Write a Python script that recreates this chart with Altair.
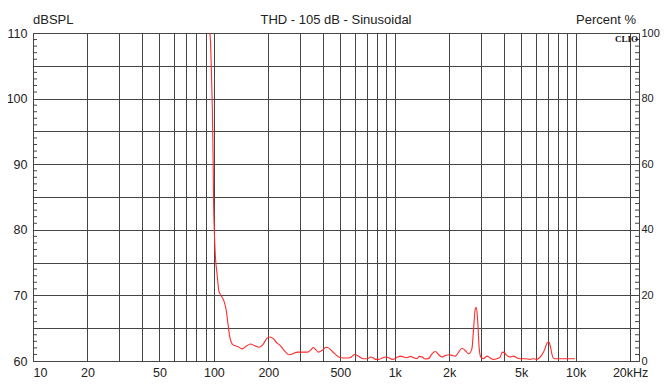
import altair as alt
import pandas as pd

# THD curve (frequency in Hz, THD in percent)
freq = [94.7, 95.9, 97.1, 98.0, 98.7, 99.2, 99.6, 100.5, 101.3, 102.2, 103.9, 104.8,
        106.5, 109.8, 113.5, 117.1, 119.4, 122.0, 126.3, 130.0, 135.6, 143.3, 150.8,
        159.3, 167.5, 178.5, 186.1, 195.8, 204.4, 213.2, 222.3, 232.9, 245.0, 261.1,
        272.3, 290.1, 309.1, 329.4, 343.9, 355.4, 366.4, 378.7, 395.4, 415.9, 429.8,
        452.2, 481.8, 502.9, 535.8, 565.7, 582.5, 600.5, 620.9, 648.2, 675.8, 704.7,
        735.7, 757.5, 784.0, 817.5, 852.3, 889.8, 927.9, 967.6, 1001, 1036, 1076, 1122,
        1170, 1222, 1274, 1328, 1369, 1416, 1478, 1541, 1607, 1678, 1750, 1824, 1904,
        1986, 2071, 2162, 2254, 2350, 2455, 2559, 2669, 2727, 2786, 2822, 2869, 2931,
        2991, 3095, 3228, 3370, 3514, 3664, 3824, 3938, 4040, 4159, 4342, 4527, 4721,
        4929, 5252, 5596, 5834, 6084, 6271, 6481, 6767, 6967, 7118, 7264, 7423, 7586,
        8010, 8721, 9483, 9899]
thd = [100.5, 96.9, 86.3, 77.5, 67.4, 57.7, 49.2, 40.1, 35.0, 31.0, 27.0, 25.0,
       21.4, 19.9, 18.4, 15.4, 11.8, 7.8, 5.2, 4.7, 4.4, 3.7, 4.5,
       5.2, 4.7, 4.2, 4.9, 6.8, 7.3, 6.8, 5.6, 4.7, 3.2, 1.9,
       2.2, 2.7, 2.7, 2.7, 3.4, 4.1, 3.4, 2.7, 3.2, 4.2, 4.0,
       2.9, 1.5, 1.0, 0.9, 1.0, 1.5, 2.0, 1.7, 1.0, 0.7, 0.7,
       1.2, 1.0, 0.5, 0.5, 0.9, 1.2, 1.0, 0.5, 0.7, 1.2, 1.5, 1.2,
       1.0, 1.4, 1.0, 0.7, 1.4, 1.2, 0.6, 0.8, 2.2, 2.9, 1.9, 1.2, 1.7,
       1.9, 1.7, 1.5, 2.7, 3.9, 3.2, 2.2, 3.7, 9.8, 15.9, 16.4, 12.8, 3.7,
       1.2, 0.7, 1.5, 0.9, 0.5, 0.7, 1.2, 2.7, 2.5, 1.7, 1.2, 1.5, 1.0,
       0.7, 0.7, 0.5, 0.7, 0.5, 0.9, 1.7, 3.7, 5.6, 5.8, 4.2, 1.7, 0.7,
       0.7, 0.7, 0.7, 0.7]

x_grid = [10, 20, 30, 40, 50, 60, 70, 80, 90, 100, 200, 300, 400, 500, 600, 700, 800, 900,
          1000, 2000, 3000, 4000, 5000, 6000, 7000, 8000, 9000, 10000, 20000]
x_labels = {10: "10", 20: "20", 50: "50", 100: "100", 200: "200", 500: "500",
            1000: "1k", 2000: "2k", 5000: "5k", 10000: "10k", 20000: "20kHz"}
db_grid = [60, 65, 70, 75, 80, 85, 90, 95, 100, 105, 110]
pct_labels = [0, 20, 40, 60, 80, 100]
db_minor = [v for v in range(61, 110) if v % 5 != 0]

texts = pd.DataFrame({
    "label": ["dBSPL", "THD - 105 dB - Sinusoidal", "Percent %"],
    "align": ["left", "center", "right"],
})

W, H = 606, 328
FONT = "Liberation Sans"
TXT = "#222222"
GRID = "#454545"

curve = pd.DataFrame({"f": freq, "pct": thd})
minor = pd.DataFrame({"db": db_minor})

label_expr = " : ".join(
    [f"datum.value == {k} ? '{v}'" for k, v in x_labels.items()]) + " : ''"

x_axis = alt.Axis(values=x_grid, labelExpr=label_expr, grid=True, gridColor=GRID,
                  gridOpacity=1, gridWidth=1, ticks=False, domain=False,
                  labelFontSize=12.5, labelFont=FONT, labelColor=TXT, labelPadding=5,
                  labelFlush=True, labelOverlap=False, title=None)

left_axis = alt.Axis(values=db_grid, orient="left",
                     labelExpr="datum.value % 10 == 0 ? datum.value : ''",
                     grid=True, gridColor=GRID, gridOpacity=1, gridWidth=1,
                     ticks=False, domain=False, labelFontSize=12.5, labelFont=FONT,
                     labelColor=TXT, labelPadding=6, labelOverlap=False, title=None)

right_axis = alt.Axis(values=pct_labels, orient="right", grid=False, ticks=False,
                      domain=False, labelFontSize=11, labelFont=FONT, labelColor=TXT,
                      labelPadding=2, labelOverlap=False, title=None)

db_scale = alt.Scale(domain=[60, 110], nice=False, zero=False)

left_ticks = alt.Chart(minor).mark_rule(color=GRID, strokeWidth=1).encode(
    x=alt.value(0), x2=alt.value(4),
    y=alt.Y("db:Q", scale=db_scale, axis=left_axis),
)

right_ticks = alt.Chart(minor).mark_rule(color=GRID, strokeWidth=1).encode(
    x=alt.value(W - 4), x2=alt.value(W),
    y=alt.Y("db:Q", scale=db_scale, axis=None),
)

line = alt.Chart(curve).mark_line(color="#ff2a2a", strokeWidth=1.1, clip=True,
                                  interpolate="monotone").encode(
    x=alt.X("f:Q", scale=alt.Scale(type="log", domain=[10, 22400], nice=False),
            axis=x_axis),
    y=alt.Y("pct:Q", scale=alt.Scale(domain=[0, 100], nice=False), axis=right_axis),
)

title_left = alt.Chart(texts.iloc[[0]]).mark_text(
    font=FONT, fontSize=13, align="left", baseline="alphabetic", color=TXT
).encode(text="label:N", x=alt.value(0), y=alt.value(-9))

title_mid = alt.Chart(texts.iloc[[1]]).mark_text(
    font=FONT, fontSize=13, align="center", baseline="alphabetic", color=TXT
).encode(text="label:N", x=alt.value(W / 2), y=alt.value(-9))

title_right = alt.Chart(texts.iloc[[2]]).mark_text(
    font=FONT, fontSize=13, align="right", baseline="alphabetic", color=TXT
).encode(text="label:N", x=alt.value(W - 3), y=alt.value(-9))

logo = alt.Chart(pd.DataFrame({"t": ["CLIO"]})).mark_text(
    font="Liberation Serif", fontWeight="bold", fontSize=9, align="right",
    baseline="top", color="#111111"
).encode(text="t:N", x=alt.value(W - 1), y=alt.value(2))

chart = alt.layer(left_ticks, right_ticks, line, title_left, title_mid, title_right,
                  logo).resolve_scale(
    y="independent"
).properties(
    width=W, height=H,
    autosize=alt.AutoSizeParams(type="none"),
    padding={"left": 25, "top": 25, "right": 652 - 25 - W, "bottom": 370 - 25 - H},
).configure_view(stroke=GRID, strokeWidth=1)

chart.save("out.html", embed_options={"renderer": "svg", "actions": False})
